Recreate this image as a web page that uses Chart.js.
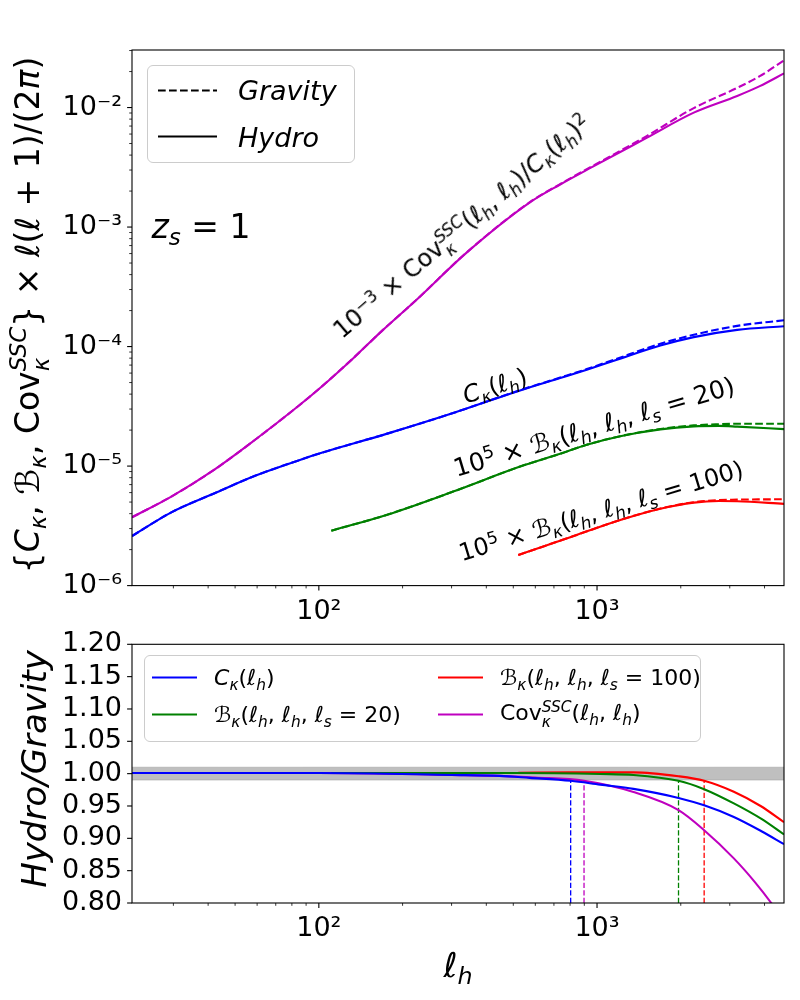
<!DOCTYPE html>
<html>
<head>
<meta charset="utf-8">
<script src="https://cdn.jsdelivr.net/npm/chart.js@4.4.1/dist/chart.umd.min.js"></script>
<style>
  html, body { margin: 0; padding: 0; background: #fff; }
  body { font-family: 'DejaVu Sans', sans-serif; color: #000; }
  #wrap { position: relative; width: 800px; height: 1000px; overflow: hidden; }
  .box { position: absolute; left: 0; width: 800px; }
  .txt { position: absolute; white-space: nowrap; line-height: 1; }
  sub, sup { font-size: 0.7em; line-height: 0; position: relative; vertical-align: baseline; }
  sup { top: -0.5em; }
  sub { top: 0.3em; }
  .ss { display: inline-flex; flex-direction: column; font-size: 0.7em; line-height: 1; vertical-align: 0.55em; font-style: italic; }
  .legend { position: absolute; background: rgba(255,255,255,0.8); border: 1px solid #cccccc; border-radius: 6px; box-sizing: border-box; }
  .legend svg { position: absolute; }
  .legend .lt { position: absolute; white-space: nowrap; line-height: 1; transform: translateY(-50%); }
</style>
</head>
<body>
<div id="wrap">
  <div class="box" style="top:0;height:640px"><canvas id="topChart"></canvas></div>
  <div class="box" style="top:600px;height:400px"><canvas id="botChart"></canvas></div>

  <!-- axis titles -->
  <div class="txt" style="left:30px;top:315px;font-size:33px;transform:translate(-50%,-50%) rotate(-90deg)">{<i>C</i><sub><i>κ</i></sub>, ℬ<sub><i>κ</i></sub>, Cov<span class="ss"><span>SSC</span><span>κ</span></span>} × <i>ℓ</i>(<i>ℓ</i> + 1)/(2<i>π</i>)</div>
  <div class="txt" style="left:34px;top:769px;font-size:34px;font-style:italic;transform:translate(-50%,-50%) rotate(-90deg)">Hydro/Gravity</div>
  <div class="txt" style="left:458px;top:965px;font-size:34px;transform:translate(-50%,-50%)"><i>ℓ</i><sub><i>h</i></sub></div>

  <!-- annotations -->
  <div class="txt" style="left:201px;top:226px;font-size:33px;transform:translate(-50%,-50%)"><i>z</i><sub><i>s</i></sub> = 1</div>
  <div class="txt" style="left:463px;top:228px;font-size:24px;transform:translate(-50%,-50%) rotate(-40.5deg)">10<sup>−3</sup> × Cov<span class="ss"><span>SSC</span><span>κ</span></span>(<i>ℓ</i><sub><i>h</i></sub>, <i>ℓ</i><sub><i>h</i></sub>)/<i>C</i><sub><i>κ</i></sub>(<i>ℓ</i><sub><i>h</i></sub>)<sup>2</sup></div>
  <div class="txt" style="left:495px;top:386px;font-size:24px;transform:translate(-50%,-50%) rotate(-18deg)"><i>C</i><sub><i>κ</i></sub>(<i>ℓ</i><sub><i>h</i></sub>)</div>
  <div class="txt" style="left:594px;top:427px;font-size:25px;transform:translate(-50%,-50%) rotate(-16.7deg)">10<sup>5</sup> × ℬ<sub><i>κ</i></sub>(<i>ℓ</i><sub><i>h</i></sub>, <i>ℓ</i><sub><i>h</i></sub>, <i>ℓ</i><sub><i>s</i></sub> = 20)</div>
  <div class="txt" style="left:601px;top:511px;font-size:24px;transform:translate(-50%,-50%) rotate(-16.7deg)">10<sup>5</sup> × ℬ<sub><i>κ</i></sub>(<i>ℓ</i><sub><i>h</i></sub>, <i>ℓ</i><sub><i>h</i></sub>, <i>ℓ</i><sub><i>s</i></sub> = 100)</div>

  <!-- top legend -->
  <div class="legend" style="left:147px;top:65px;width:208px;height:98px">
    <svg style="left:10px;top:22px" width="59" height="5"><line x1="0" y1="2.5" x2="59" y2="2.5" stroke="#000" stroke-width="2.1" stroke-dasharray="7.7 3.3"/></svg>
    <span class="lt" style="left:90px;top:24px;font-size:27px;font-style:italic">Gravity</span>
    <svg style="left:10px;top:68px" width="59" height="5"><line x1="0" y1="2.5" x2="59" y2="2.5" stroke="#000" stroke-width="2.1"/></svg>
    <span class="lt" style="left:90px;top:71px;font-size:27px;font-style:italic">Hydro</span>
  </div>

  <!-- bottom legend -->
  <div class="legend" style="left:144px;top:655px;width:557px;height:87px">
    <svg style="left:7px;top:19px" width="45" height="5"><line x1="0" y1="2.5" x2="45" y2="2.5" stroke="#0000ff" stroke-width="2.1"/></svg>
    <span class="lt" style="left:69px;top:22px;font-size:22px"><i>C</i><sub><i>κ</i></sub>(<i>ℓ</i><sub><i>h</i></sub>)</span>
    <svg style="left:7px;top:56px" width="45" height="5"><line x1="0" y1="2.5" x2="45" y2="2.5" stroke="#008000" stroke-width="2.1"/></svg>
    <span class="lt" style="left:69px;top:59px;font-size:22px">ℬ<sub><i>κ</i></sub>(<i>ℓ</i><sub><i>h</i></sub>, <i>ℓ</i><sub><i>h</i></sub>, <i>ℓ</i><sub><i>s</i></sub> = 20)</span>
    <svg style="left:293px;top:19px" width="45" height="5"><line x1="0" y1="2.5" x2="45" y2="2.5" stroke="#ff0000" stroke-width="2.1"/></svg>
    <span class="lt" style="left:355px;top:22px;font-size:22px">ℬ<sub><i>κ</i></sub>(<i>ℓ</i><sub><i>h</i></sub>, <i>ℓ</i><sub><i>h</i></sub>, <i>ℓ</i><sub><i>s</i></sub> = 100)</span>
    <svg style="left:293px;top:56px" width="45" height="5"><line x1="0" y1="2.5" x2="45" y2="2.5" stroke="#bf00bf" stroke-width="2.1"/></svg>
    <span class="lt" style="left:355px;top:59px;font-size:22px">Cov<span class="ss"><span>SSC</span><span>κ</span></span>(<i>ℓ</i><sub><i>h</i></sub>, <i>ℓ</i><sub><i>h</i></sub>)</span>
  </div>
</div>

<script>
'use strict';

// ── Data ─────────────────────────────────────────────────────────────────────

const X_MIN = 21.3;
const X_MAX = 4700;
const Y_TOP_MIN = 1e-6;
const Y_TOP_MAX = 3.03e-2;

// 1e-3 x Cov^SSC / C^2
const covEll     = [21.3, 29.5, 42, 59, 84, 101, 133, 169, 223, 339, 572, 737, 966, 1513, 2227, 3190, 3846, 4700];
const covHydro   = [3.73e-6, 5.56e-6, 9.3e-6, 1.66e-5, 3.15e-5, 4.5e-5, 8.0e-5, 1.36e-4, 2.43e-4, 6.08e-4, 1.6e-3, 2.27e-3, 3.2e-3, 5.6e-3, 9.06e-3, 1.25e-2, 1.51e-2, 1.93e-2];
const covGravity = [3.73e-6, 5.56e-6, 9.3e-6, 1.66e-5, 3.15e-5, 4.5e-5, 8.0e-5, 1.36e-4, 2.43e-4, 6.1e-4, 1.61e-3, 2.29e-3, 3.25e-3, 5.8e-3, 9.9e-3, 1.46e-2, 1.83e-2, 2.48e-2];

// C_kappa
const ckEll      = [21.3, 29.5, 42, 59, 84, 101, 175, 304, 529, 737, 919, 1179, 1689, 2227, 3190, 4700];
const ckHydro    = [2.6e-6, 4.1e-6, 5.9e-6, 8.3e-6, 1.11e-5, 1.28e-5, 1.86e-5, 2.78e-5, 4.3e-5, 5.45e-5, 6.4e-5, 7.76e-5, 1.02e-4, 1.2e-4, 1.38e-4, 1.48e-4];
const ckGravity  = [2.6e-6, 4.1e-6, 5.9e-6, 8.3e-6, 1.11e-5, 1.28e-5, 1.86e-5, 2.78e-5, 4.32e-5, 5.5e-5, 6.48e-5, 7.92e-5, 1.055e-4, 1.255e-4, 1.49e-4, 1.66e-4];

// 1e5 x B_kappa, l_s = 20
const b20Ell     = [110.9, 175, 304, 529, 737, 919, 1212, 1689, 2227, 2748, 3190, 4700];
const b20Hydro   = [2.88e-6, 3.9e-6, 6.12e-6, 9.91e-6, 1.267e-5, 1.51e-5, 1.78e-5, 2.03e-5, 2.15e-5, 2.17e-5, 2.14e-5, 2.04e-5];
const b20Gravity = [2.88e-6, 3.9e-6, 6.12e-6, 9.91e-6, 1.267e-5, 1.51e-5, 1.78e-5, 2.045e-5, 2.19e-5, 2.24e-5, 2.26e-5, 2.26e-5];

// 1e5 x B_kappa, l_s = 100
const b100Ell     = [521, 801, 1212, 1689, 2227, 2748, 3190, 4700];
const b100Hydro   = [1.8e-6, 2.54e-6, 3.54e-6, 4.4e-6, 4.95e-6, 5.1e-6, 5.08e-6, 4.83e-6];
const b100Gravity = [1.8e-6, 2.54e-6, 3.54e-6, 4.41e-6, 4.99e-6, 5.2e-6, 5.24e-6, 5.28e-6];

// Hydro / Gravity ratios
const rCkEll   = [21.3, 100, 300, 447, 573, 804, 1027, 1352, 1963, 2427, 3103, 3900, 4700];
const rCk      = [1.001, 1.001, 0.998, 0.9965, 0.9935, 0.989, 0.983, 0.9765, 0.9625, 0.951, 0.933, 0.911, 0.891];
const rB20Ell  = [110.9, 500, 1027, 1352, 1963, 2427, 3103, 3900, 4700];
const rB20     = [1.001, 1.001, 0.9995, 0.998, 0.989, 0.976, 0.954, 0.93, 0.906];
const rB100Ell = [521, 800, 1352, 1963, 2427, 3103, 3873, 4700];
const rB100    = [1.0015, 1.002, 1.002, 0.996, 0.989, 0.972, 0.95, 0.925];
const rCovEll  = [21.3, 100, 300, 447, 600, 898, 1352, 1963, 2427, 3103, 3700, 4230, 4700];
const rCov     = [1.001, 1.001, 0.998, 0.9965, 0.994, 0.989, 0.9715, 0.9435, 0.9125, 0.869, 0.832, 0.8, 0.772];

// 1% band and the l where each ratio leaves it
const bandEll  = [X_MIN, X_MAX];
const bandLow  = [0.99, 0.99];
const bandHigh = [1.01, 1.01];
const crossEll   = [804, 898, 1963, 2427];
const crossLevel = 0.99;
const RATIO_MIN = 0.8;

const ratioTicks = [0.80, 0.85, 0.90, 0.95, 1.00, 1.05, 1.10, 1.15, 1.20];

// ── Styles ───────────────────────────────────────────────────────────────────

const BLUE = '#0000ff';
const GREEN = '#008000';
const RED = '#ff0000';
const MAGENTA = '#bf00bf';
const crossColors = [BLUE, MAGENTA, GREEN, RED];
const TICK_FONT = { family: "'DejaVu Sans', sans-serif", size: 27 };
const LW = 2.1;

// ── Helpers ──────────────────────────────────────────────────────────────────

const pts = (xs, ys) => xs.map((x, i) => ({ x, y: ys[i] }));

function curve(xs, ys, color, dashed, order) {
  return {
    data: pts(xs, ys),
    borderColor: color,
    borderWidth: LW,
    borderDash: dashed ? [7.7, 3.3] : [],
    pointRadius: 0,
    fill: false,
    cubicInterpolationMode: 'monotone',
    order,
  };
}

function isDecade(v) {
  const l = Math.log10(v);
  return Math.abs(l - Math.round(l)) < 1e-6;
}

const SUP = { '-': '⁻', '0': '⁰', '1': '¹', '2': '²', '3': '³', '4': '⁴', '5': '⁵', '6': '⁶', '7': '⁷', '8': '⁸', '9': '⁹' };
function powLabel(v) {
  const e = String(Math.round(Math.log10(v)));
  return '10' + e.split('').map(c => SUP[c]).join('');
}

function logTicks(min, max) {
  const out = [];
  for (let e = Math.floor(Math.log10(min)); e <= Math.ceil(Math.log10(max)); e++) {
    for (let k = 1; k <= 9; k++) {
      const v = k * Math.pow(10, e);
      if (v >= min * 0.9999 && v <= max * 1.0001) out.push({ value: v });
    }
  }
  return out;
}

function zeroPad(s) {
  s.paddingLeft = 0; s.paddingRight = 0; s.paddingTop = 0; s.paddingBottom = 0;
}

// frame on all four sides, ticks pointing out on left/bottom
const frameTicks = {
  id: 'frameTicks',
  afterDraw(chart) {
    const { ctx, chartArea: a, scales } = chart;
    ctx.save();
    ctx.strokeStyle = '#000';
    ctx.lineWidth = 1.1;
    ctx.strokeRect(a.left, a.top, a.right - a.left, a.bottom - a.top);
    for (const t of scales.x.ticks) {
      const px = scales.x.getPixelForValue(t.value);
      const major = isDecade(t.value);
      ctx.lineWidth = major ? 1.1 : 0.8;
      ctx.beginPath();
      ctx.moveTo(px, a.bottom);
      ctx.lineTo(px, a.bottom + (major ? 4.9 : 2.8));
      ctx.stroke();
    }
    const ys = scales.y;
    for (const t of ys.ticks) {
      const py = ys.getPixelForValue(t.value);
      const major = ys.type === 'linear' || isDecade(t.value);
      ctx.lineWidth = major ? 1.1 : 0.8;
      ctx.beginPath();
      ctx.moveTo(a.left, py);
      ctx.lineTo(a.left - (major ? 4.9 : 2.8), py);
      ctx.stroke();
    }
    ctx.restore();
  },
};

function xScale(height) {
  return {
    type: 'logarithmic',
    min: X_MIN,
    max: X_MAX,
    grid: { display: false, drawTicks: false },
    border: { display: false },
    afterBuildTicks: s => { s.ticks = logTicks(X_MIN, X_MAX); },
    afterFit: s => { s.height = height; zeroPad(s); },
    ticks: {
      autoSkip: false, maxRotation: 0, minRotation: 0, padding: 10,
      color: '#000', font: TICK_FONT,
      callback: v => (isDecade(v) ? powLabel(v) : ''),
    },
  };
}

// ── Top panel ────────────────────────────────────────────────────────────────

new Chart(document.getElementById('topChart'), {
  type: 'line',
  data: {
    datasets: [
      curve(covEll, covGravity, MAGENTA, true, 2),
      curve(covEll, covHydro, MAGENTA, false, 1),
      curve(ckEll, ckGravity, BLUE, true, 2),
      curve(ckEll, ckHydro, BLUE, false, 1),
      curve(b20Ell, b20Gravity, GREEN, true, 2),
      curve(b20Ell, b20Hydro, GREEN, false, 1),
      curve(b100Ell, b100Gravity, RED, true, 2),
      curve(b100Ell, b100Hydro, RED, false, 1),
    ],
  },
  options: {
    responsive: true,
    maintainAspectRatio: false,
    animation: false,
    layout: { padding: { top: 50, right: 16, left: 0, bottom: 0 } },
    plugins: { legend: { display: false }, tooltip: { enabled: false } },
    scales: {
      x: xScale(54.4),
      y: {
        type: 'logarithmic',
        min: Y_TOP_MIN,
        max: Y_TOP_MAX,
        grid: { display: false, drawTicks: false },
        border: { display: false },
        afterBuildTicks: s => { s.ticks = logTicks(Y_TOP_MIN, Y_TOP_MAX); },
        afterFit: s => { s.width = 132; zeroPad(s); },
        ticks: {
          autoSkip: false, padding: 10, color: '#000', font: TICK_FONT,
          callback: v => (isDecade(v) ? powLabel(v) : ''),
        },
      },
    },
  },
  plugins: [frameTicks],
});

// ── Bottom panel ─────────────────────────────────────────────────────────────

const crossSets = crossEll.map((l, i) => ({
  data: [{ x: l, y: RATIO_MIN }, { x: l, y: crossLevel }],
  borderColor: crossColors[i],
  borderWidth: 1.3,
  borderDash: [5.2, 2.3],
  pointRadius: 0,
  fill: false,
  order: 5,
}));

new Chart(document.getElementById('botChart'), {
  type: 'line',
  data: {
    datasets: [
      {
        data: pts(bandEll, bandHigh), borderColor: 'rgba(128,128,128,0.35)', borderWidth: 1,
        backgroundColor: 'rgba(128,128,128,0.5)', fill: '+1', pointRadius: 0, order: 10,
      },
      {
        data: pts(bandEll, bandLow), borderColor: 'rgba(128,128,128,0.35)', borderWidth: 1,
        fill: false, pointRadius: 0, order: 10,
      },
      ...crossSets,
      curve(rCkEll, rCk, BLUE, false, 1),
      curve(rB20Ell, rB20, GREEN, false, 1),
      curve(rB100Ell, rB100, RED, false, 1),
      curve(rCovEll, rCov, MAGENTA, false, 1),
    ],
  },
  options: {
    responsive: true,
    maintainAspectRatio: false,
    animation: false,
    layout: { padding: { top: 44.3, right: 16, left: 0, bottom: 0 } },
    plugins: { legend: { display: false }, tooltip: { enabled: false } },
    scales: {
      x: xScale(97),
      y: {
        type: 'linear',
        min: 0.8,
        max: 1.2,
        grid: { display: false, drawTicks: false },
        border: { display: false },
        afterBuildTicks: s => { s.ticks = ratioTicks.map(v => ({ value: v })); },
        afterFit: s => { s.width = 132; zeroPad(s); },
        ticks: {
          autoSkip: false, padding: 10, color: '#000', font: TICK_FONT,
          callback: v => v.toFixed(2),
        },
      },
    },
  },
  plugins: [frameTicks],
});
</script>
</body>
</html>
